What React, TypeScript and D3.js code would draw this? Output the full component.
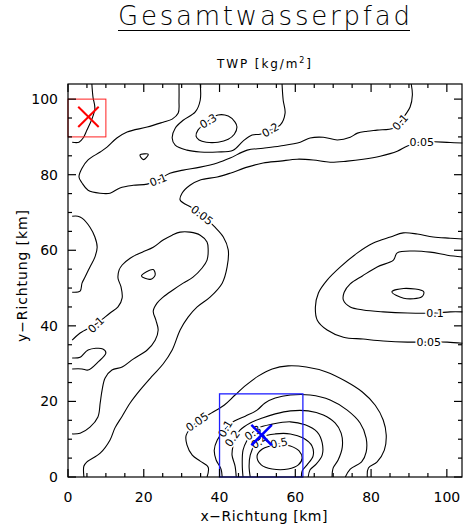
import React from "react";
import * as d3 from "d3";

type P = [number, number];

// ---- axes ----
const xDomain: [number, number] = [0, 104];
const yDomain: [number, number] = [0, 104];
const majorTicks = [0, 20, 40, 60, 80, 100];
const minorTicks = [5, 10, 15, 25, 30, 35, 45, 50, 55, 65, 70, 75, 85, 90, 95];

// ---- contour lines (km, km) ----
const cTopLeft: P[] = [[6.3,104],[6.6,100.5],[7.1,97.6],[6.3,94.7],[5.0,91.8],[4.0,89.7],[2.9,88.6],[1.1,88.6]];
const c01Top: P[] = [[29.3,104],[29.3,99.7],[29.1,96.3],[27.5,94.7],[25.1,93.9],[20.9,92.6],[15.6,91.3],[12.9,89.7],[10.3,87.3],[8.5,86.0],[5.3,83.9],[3.7,81.7],[2.9,79.4],[3.7,77.8],[5.3,75.9],[8.5,75.1],[11.1,75.1],[13.7,76.5],[17.2,77.2],[20.9,77.5],[23.8,78.6],[26.9,80.4],[30.4,81.2],[34.9,82.0],[39.4,83.1],[42.8,84.4],[47.3,86.5],[51.5,87.0],[56.0,87.6],[61.3,88.6],[63.9,89.7],[67.4,89.9],[71.1,89.2],[74.5,89.9],[76.4,91.0],[79.0,91.5],[81.6,91.8],[85.9,92.3],[87.7,93.9],[89.0,95.8],[90.3,97.9],[90.9,101.1],[90.6,104]];
const c02Top: P[] = [[34.9,104],[34.9,99.7],[33.6,96.6],[30.4,94.4],[28.3,92.3],[27.5,89.7],[28.3,87.8],[31.4,86.5],[34.9,86.0],[39.4,86.0],[43.6,86.5],[46.2,88.9],[48.6,90.5],[50.7,90.7],[53.4,91.8],[56.0,93.1],[57.3,96.3],[56.8,99.7],[56.5,104]];
const c03Top: P[] = [[33.8,90.2],[34.3,91.8],[37.0,94.2],[39.6,95.8],[42.3,95.5],[44.1,93.9],[44.6,92.6],[43.9,90.7],[42.3,89.4],[39.6,88.6],[36.5,88.6],[34.6,89.2]];
const cTriTop: P[] = [[19.0,85.2],[21.2,85.4],[19.9,84.0]];
const c005Main: P[] = [[104.1,88.4],[100.9,88.5],[93.4,88.7],[89.6,87.6],[86.9,86.2],[82.4,84.9],[77.9,84.1],[73.7,83.6],[69.2,83.3],[64.7,83.9],[60.5,84.1],[56.0,83.6],[51.5,83.1],[47.3,82.0],[42.8,80.4],[39.4,79.4],[34.9,78.6],[32.2,77.2],[30.1,75.1],[29.6,73.3],[32.8,71.2],[35.4,69.3],[38.8,66.1],[41.0,63.5],[42.3,60.1],[42.0,55.6],[40.7,51.3],[37.5,47.6],[34.1,45.0],[31.7,42.3],[29.6,38.9],[27.5,33.6],[25.1,29.9],[22.2,26.7],[19.0,23.0],[16.4,19.6],[14.3,16.1],[12.4,13.0],[11.1,9.8],[8.5,6.3],[5.0,4.0],[4.2,2.9],[4.2,0]];
const c01Lobe: P[] = [[1.1,36.2],[3.2,38.1],[7.4,40.5],[11.1,43.4],[13.2,45.0],[14.3,47.4],[14.0,50.3],[13.2,52.6],[13.5,54.8],[14.3,56.1],[16.4,57.9],[19.6,59.5],[22.5,60.8],[25.1,62.7],[27.5,64.0],[29.6,64.8],[32.2,64.8],[34.9,64.0],[36.7,62.2],[37.0,60.1],[36.7,57.4],[35.4,55.3],[33.0,52.9],[30.4,51.3],[27.7,49.5],[25.1,47.6],[23.5,46.0],[22.5,43.9],[23.2,41.5],[23.8,38.9],[23.0,36.2],[20.9,33.6],[17.2,31.2],[14.3,29.1],[11.6,28.3],[9.8,26.2],[9.0,23.0],[8.5,19.6],[7.9,15.9],[5.8,13.2],[3.2,11.6],[1.1,11.4]];
const cTriLobe: P[] = [[19.4,53.2],[22.5,54.9],[23.0,53.4],[21.7,52.3]];
const cLeftSmall: P[] = [[1.1,31.5],[3.2,31.7],[5.3,33.6],[9.2,33.9],[10.0,32.8],[7.9,30.4],[5.3,28.3],[3.7,28.6],[1.1,28.6]];
const cLeftUpper: P[] = [[1.1,69.0],[2.6,69.0],[3.7,68.5],[5.8,66.1],[7.1,63.5],[7.7,60.8],[7.1,58.2],[5.8,55.6],[4.5,52.9],[3.7,51.3],[3.2,49.2],[1.1,48.9]];
const c005Right: P[] = [[104.1,63.0],[100.9,63.2],[96.4,63.5],[92.2,64.3],[88.5,64.6],[85.1,63.5],[80.6,61.9],[76.4,59.3],[71.9,55.6],[68.4,52.1],[66.1,48.7],[65.3,45.0],[65.8,41.5],[68.4,38.9],[72.7,37.0],[77.9,36.5],[83.2,36.0],[89.6,35.7],[95.2,35.7],[100.1,35.7],[104.1,35.4]];
const c01Right: P[] = [[104.1,58.2],[100.1,58.7],[95.6,59.5],[91.1,59.8],[86.9,59.3],[85.9,57.4],[81.6,55.6],[77.7,53.2],[74.5,51.1],[72.9,48.9],[72.7,46.8],[74.5,45.0],[77.9,44.2],[83.2,43.7],[89.6,43.4],[96.9,43.4],[100.9,43.7],[104.1,43.7]];
const cTriRight: P[] = [[85.5,49.0],[88.6,49.9],[93.9,49.0],[93.4,47.7],[88.6,47.3]];
const c005Peak: P[] = [[36.7,0],[37.0,2.6],[34.9,4.2],[32.8,5.8],[31.4,8.5],[31.2,11.1],[34.1,14.6],[37.8,16.9],[41.2,19.0],[44.1,21.7],[47.0,24.3],[50.2,26.7],[53.9,28.6],[58.1,29.4],[62.9,29.1],[68.2,27.8],[73.2,25.4],[77.7,22.5],[81.1,19.0],[83.2,15.1],[84.0,11.1],[83.5,7.1],[81.6,4.0],[79.3,2.4],[79.0,0]];
const c01Peak: P[] = [[40.7,0],[40.4,2.1],[39.1,4.5],[38.6,7.1],[39.4,9.8],[41.5,12.7],[43.9,14.8],[46.8,16.1],[49.9,17.7],[52.0,19.6],[54.7,20.9],[58.7,21.7],[63.9,21.7],[69.2,20.4],[73.7,17.7],[77.1,14.3],[78.7,10.3],[78.7,6.6],[77.5,4.0],[74.5,2.1],[73.2,0]];
const c02Peak: P[] = [[44.4,0],[44.1,2.9],[43.3,5.8],[43.6,8.5],[44.2,10.5],[45.4,12.4],[48.1,14.3],[51.3,15.6],[54.7,16.7],[58.7,17.5],[63.4,17.5],[67.4,16.4],[70.5,14.3],[72.1,11.6],[72.4,7.9],[71.3,4.5],[70.0,2.4],[69.7,0]];
const c03Peak: P[] = [[46.2,0],[46.0,3.2],[46.2,7.1],[47.3,9.8],[48.6,11.6],[50.2,13.0],[53.9,14.0],[58.7,14.6],[62.6,13.8],[65.8,11.9],[67.1,9.0],[67.1,5.8],[65.5,3.4],[63.9,1.9],[63.4,0]];
const c04Peak: P[] = [[48.1,0],[47.8,2.9],[48.1,5.8],[49.3,8.6],[51.3,10.6],[54.7,11.4],[58.7,11.4],[62.1,10.3],[64.4,8.2],[64.7,5.6],[63.1,3.2],[61.8,1.6],[61.6,0]];
const c05Peak: P[] = [[49.9,5.6],[51.3,7.4],[53.4,8.2],[55.5,8.7],[58.7,8.2],[61.0,6.9],[61.8,5.0],[60.8,3.2],[58.1,2.1],[53.9,2.1],[51.0,3.2]];

const openContours = [cTopLeft, c01Top, c02Top, c005Main, c01Lobe, cLeftSmall, cLeftUpper, c005Right, c01Right, c005Peak, c01Peak, c02Peak, c03Peak, c04Peak];
const closedContours = [c03Top, cTriTop, cTriLobe, cTriRight, c05Peak];

// ---- contour labels: text, x, y, angle ----
const labelText = ["0.3", "0.2", "0.1", "0.1", "0.05", "0.05", "0.1", "0.1", "0.05", "0.05", "0.1", "0.2", "0.3", "0.4", "0.5"];
const labelX = [37.0, 53.4, 23.8, 87.7, 93.4, 35.4, 7.4, 96.9, 95.2, 34.1, 41.5, 43.4, 48.8, 50.6, 55.7];
const labelY = [94.2, 91.8, 78.6, 93.9, 88.7, 69.3, 40.3, 43.4, 35.7, 14.6, 12.8, 10.2, 11.7, 9.4, 9.0];
const labelAngle = [-32, -30, -22, -48, 0, 38, -45, 0, 0, -35, -60, -55, -35, -30, -12];

// ---- markers and boxes ----
const redMarker: P = [5.4, 95.3];
const blueMarker: P = [51.1, 11.1];
const redBox = { x0: 0, x1: 10, y0: 90, y1: 100 };
const blueBox = { x0: 40, x1: 62, y0: 0, y1: 22 };
const markerHalf = 2.7;

const FONT = "'DejaVu Sans', sans-serif";

export default function App() {
  const W = 463, H = 525;
  const x = d3.scaleLinear().domain(xDomain).range([68, 462]);
  const y = d3.scaleLinear().domain(yDomain).range([477, 84]);
  const line = d3.line<P>().x(d => x(d[0])).y(d => y(d[1])).curve(d3.curveCatmullRom.alpha(0.5));
  const closed = d3.line<P>().x(d => x(d[0])).y(d => y(d[1])).curve(d3.curveCatmullRomClosed.alpha(0.5));
  const x0 = x(xDomain[0]), x1 = x(xDomain[1]), y0 = y(yDomain[0]), y1 = y(yDomain[1]);
  const MAJ = 8, MIN = 4;

  const ticks: JSX.Element[] = [];
  const addTicks = (vals: number[], len: number, key: string) => {
    vals.forEach(v => {
      const px = x(v), py = y(v);
      ticks.push(<line key={`${key}b${v}`} x1={px} x2={px} y1={y0} y2={y0 - len} />);
      ticks.push(<line key={`${key}t${v}`} x1={px} x2={px} y1={y1} y2={y1 + len} />);
      ticks.push(<line key={`${key}l${v}`} x1={x0} x2={x0 + len} y1={py} y2={py} />);
      ticks.push(<line key={`${key}r${v}`} x1={x1} x2={x1 - len} y1={py} y2={py} />);
    });
  };
  addTicks(majorTicks, MAJ, "M");
  addTicks(minorTicks, MIN, "m");

  const cross = (c: P) => [
    [[c[0] - markerHalf, c[1] + markerHalf], [c[0] + markerHalf, c[1] - markerHalf]],
    [[c[0] - markerHalf, c[1] - markerHalf], [c[0] + markerHalf, c[1] + markerHalf]],
  ] as P[][];

  return (
    <svg width={W} height={H} style={{ position: "fixed", left: 0, top: 0, background: "#fff" }} fontFamily={FONT}>
      <rect x={0} y={0} width={W} height={H} fill="#fff" />
      {/* title */}
      <text x={264} y={25} textAnchor="middle" fontSize={26} fontWeight={200} textLength={292} lengthAdjust="spacing">Gesamtwasserpfad</text>
      <line x1={118} x2={410} y1={30.5} y2={30.5} stroke="#000" strokeWidth={1.2} />
      <text x={264} y={68} textAnchor="middle" fontSize={12} textLength={94} lengthAdjust="spacing">
        TWP [kg/m<tspan dy={-5} fontSize={8}>2</tspan><tspan dy={5}>]</tspan>
      </text>

      {/* contours */}
      <g fill="none" stroke="#000" strokeWidth={1.1} strokeLinejoin="round">
        {openContours.map((c, i) => <path key={`o${i}`} d={line(c) || ""} />)}
        {closedContours.map((c, i) => <path key={`c${i}`} d={closed(c) || ""} />)}
      </g>
      {/* contour labels */}
      <g fontSize={11} textAnchor="middle">
        {labelText.map((t, i) => (
          <text key={`l${i}`} transform={`translate(${x(labelX[i])},${y(labelY[i])}) rotate(${labelAngle[i]})`} dy="0.35em"
            stroke="#fff" strokeWidth={3.5} paintOrder="stroke" fill="#000">{t}</text>
        ))}
      </g>

      {/* boxes and markers */}
      <rect x={x(redBox.x0)} y={y(redBox.y1)} width={x(redBox.x1) - x(redBox.x0)} height={y(redBox.y0) - y(redBox.y1)} fill="none" stroke="#ff2020" strokeWidth={1} />
      <rect x={x(blueBox.x0)} y={y(blueBox.y1)} width={x(blueBox.x1) - x(blueBox.x0)} height={y(blueBox.y0) - y(blueBox.y1)} fill="none" stroke="#2020ff" strokeWidth={1.3} />
      {cross(redMarker).map((s, i) => <line key={`rx${i}`} x1={x(s[0][0])} y1={y(s[0][1])} x2={x(s[1][0])} y2={y(s[1][1])} stroke="#ff0000" strokeWidth={2} />)}
      {cross(blueMarker).map((s, i) => <line key={`bx${i}`} x1={x(s[0][0])} y1={y(s[0][1])} x2={x(s[1][0])} y2={y(s[1][1])} stroke="#0000ff" strokeWidth={2.5} />)}

      {/* frame and ticks */}
      <g stroke="#000" strokeWidth={1.2}>
        <rect x={x0} y={y1} width={x1 - x0} height={y0 - y1} fill="none" />
        {ticks}
      </g>
      {/* tick labels */}
      <g fontSize={14}>
        {majorTicks.map(v => <text key={`xl${v}`} x={x(v)} y={502} textAnchor="middle">{v}</text>)}
        {majorTicks.map(v => <text key={`yl${v}`} x={58} y={y(v)} dy="0.36em" textAnchor="end">{v}</text>)}
      </g>
      <text x={264} y={521} textAnchor="middle" fontSize={14} textLength={127} lengthAdjust="spacing">x−Richtung [km]</text>
      <text transform={`translate(27,${276}) rotate(-90)`} textAnchor="middle" fontSize={14} textLength={132} lengthAdjust="spacing">y−Richtung [km]</text>
    </svg>
  );
}
